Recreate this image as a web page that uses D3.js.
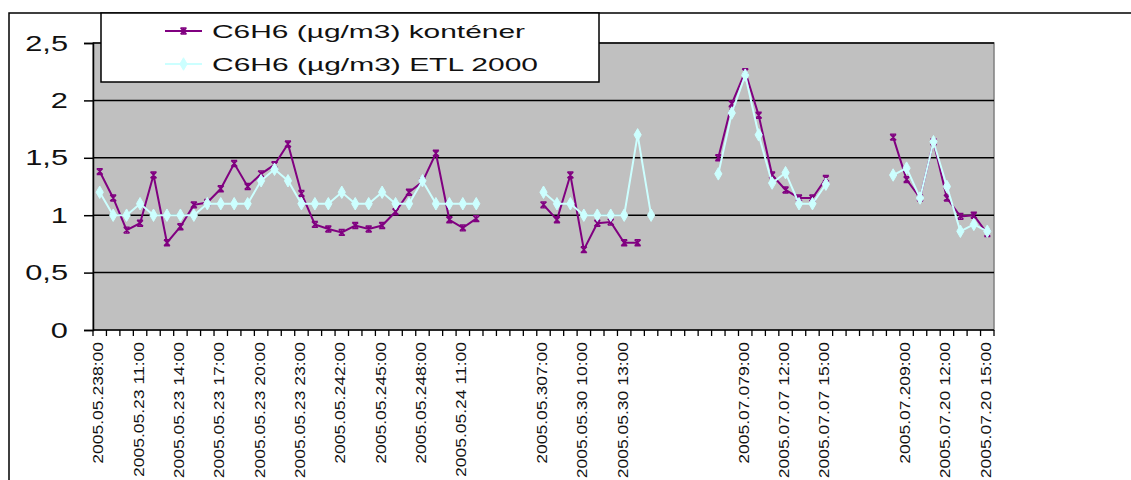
<!DOCTYPE html>
<html>
<head>
<meta charset="utf-8">
<script src="https://cdn.jsdelivr.net/npm/d3@7"></script>
<style>
  html, body { margin: 0; padding: 0; background: #fff; }
  svg { display: block; font-family: "Liberation Sans", Arial, sans-serif; }
</style>
</head>
<body>
<svg id="chart" width="1131" height="480"></svg>
<script>
// ---- data ----
const categories = [
  "2005.05.238:00","2005.05.239:00","2005.05.23 10:00","2005.05.23 11:00","2005.05.23 12:00",
  "2005.05.23 13:00","2005.05.23 14:00","2005.05.23 15:00","2005.05.23 16:00","2005.05.23 17:00",
  "2005.05.23 18:00","2005.05.23 19:00","2005.05.23 20:00","2005.05.23 21:00","2005.05.23 22:00",
  "2005.05.23 23:00","2005.05.240:00","2005.05.241:00","2005.05.242:00","2005.05.243:00",
  "2005.05.244:00","2005.05.245:00","2005.05.246:00","2005.05.247:00","2005.05.248:00",
  "2005.05.249:00","2005.05.24 10:00","2005.05.24 11:00","2005.05.24 12:00",
  "","","","",
  "2005.05.307:00","2005.05.308:00","2005.05.309:00","2005.05.30 10:00","2005.05.30 11:00",
  "2005.05.30 12:00","2005.05.30 13:00","2005.05.30 14:00","2005.05.30 15:00",
  "","","","",
  "2005.07.077:00","2005.07.078:00","2005.07.079:00","2005.07.07 10:00","2005.07.07 11:00",
  "2005.07.07 12:00","2005.07.07 13:00","2005.07.07 14:00","2005.07.07 15:00",
  "","","","",
  "2005.07.208:00","2005.07.209:00","2005.07.20 10:00","2005.07.20 11:00","2005.07.20 12:00",
  "2005.07.20 13:00","2005.07.20 14:00","2005.07.20 15:00"
];
const kontener = [
  1.38,1.15,0.87,0.93,1.35,0.76,0.90,1.09,1.11,1.23,1.45,1.25,1.36,1.44,1.62,
  1.19,0.92,0.88,0.85,0.91,0.88,0.91,1.03,1.20,1.29,1.54,0.96,0.89,0.97,
  null,null,null,null,
  1.09,0.96,1.35,0.70,0.93,0.94,0.76,0.76,null,
  null,null,null,null,
  1.50,1.97,2.25,1.87,1.35,1.22,1.15,1.15,1.32,
  null,null,null,null,
  1.68,1.31,1.15,1.64,1.15,0.99,1.00,0.84
];
const etl2000 = [
  1.2,1.0,1.0,1.1,1.0,1.0,1.0,1.0,1.1,1.1,1.1,1.1,1.3,1.4,1.3,
  1.1,1.1,1.1,1.2,1.1,1.1,1.2,1.1,1.1,1.3,1.1,1.1,1.1,1.1,
  null,null,null,null,
  1.2,1.1,1.1,1.0,1.0,1.0,1.0,1.7,1.0,
  null,null,null,null,
  1.36,1.89,2.22,1.70,1.28,1.37,1.10,1.10,1.27,
  null,null,null,null,
  1.35,1.41,1.15,1.64,1.25,0.86,0.92,0.86
];
const seriesNames = ["C6H6 (µg/m3) konténer", "C6H6 (µg/m3) ETL 2000"];
const yTicks = [0, 0.5, 1, 1.5, 2, 2.5];
const labelEvery = 3;

// ---- layout ----
const svg = d3.select("#chart");
const plot = { left: 93, right: 994, top: 43, bottom: 330 };
const colors = { kont: "#800080", etl: "#ccffff", plotBg: "#c0c0c0" };

const idx = d3.range(categories.length);
const x = d3.scaleBand().domain(idx).range([plot.left, plot.right]).padding(0);
const y = d3.scaleLinear().domain([0, 2.5]).range([plot.bottom, plot.top]);
const locale = d3.formatLocale({ decimal: ",", thousands: " ", grouping: [3], currency: ["", ""] });
const fmt = locale.format(".1~f");

// chart area frame
svg.append("rect").attr("x", 9).attr("y", 13).attr("width", 1200).attr("height", 600)
  .attr("fill", "#fff").attr("stroke", "#000").attr("stroke-width", 1.5);

// plot area
svg.append("rect").attr("x", plot.left).attr("y", plot.top)
  .attr("width", plot.right - plot.left).attr("height", plot.bottom - plot.top)
  .attr("fill", colors.plotBg).attr("stroke", "#808080").attr("stroke-width", 1.5);

// gridlines
svg.append("g").selectAll("line").data(yTicks.filter(d => d > 0)).join("line")
  .attr("x1", plot.left).attr("x2", plot.right)
  .attr("y1", d => y(d)).attr("y2", d => y(d))
  .attr("stroke", "#000").attr("stroke-width", 1.5);

// y axis
const yAxis = svg.append("g").attr("transform", `translate(${plot.left},0)`)
  .call(d3.axisLeft(y).tickValues(yTicks).tickSize(9).tickFormat(fmt));
yAxis.select(".domain").attr("stroke", "#000").attr("stroke-width", 1.5);
yAxis.selectAll(".tick line").attr("stroke", "#000").attr("stroke-width", 1.5);
yAxis.selectAll(".tick text").each(function () {
  const t = d3.select(this);
  t.attr("x", null).attr("dy", null)
   .attr("text-anchor", "end")
   .attr("font-size", 22).attr("fill", "#111")
   .attr("font-family", "'Liberation Sans', Arial, sans-serif")
   .attr("transform", `translate(-25,7) scale(1.4,1)`);
});

// x axis: tick marks at category boundaries
const bounds = idx.map(i => x(i)).concat([x(idx[idx.length - 1]) + x.bandwidth()]);
svg.append("g").selectAll("line").data(bounds).join("line")
  .attr("x1", d => d).attr("x2", d => d)
  .attr("y1", plot.bottom).attr("y2", plot.bottom + 6)
  .attr("stroke", "#000").attr("stroke-width", 1.3);
svg.append("line").attr("x1", plot.left).attr("x2", plot.right)
  .attr("y1", plot.bottom).attr("y2", plot.bottom)
  .attr("stroke", "#000").attr("stroke-width", 1.5);

// x labels
const labelIdx = idx.filter(i => i % labelEvery === 0 && categories[i] !== "");
const xl = svg.append("g").selectAll("text").data(labelIdx).join("text")
  .attr("transform", i => `translate(${x(i) + x.bandwidth() / 2 - 2},${plot.bottom + 12}) rotate(-90)`)
  .attr("text-anchor", "end").attr("dy", "0.35em")
  .attr("font-size", 15.5).attr("fill", "#111")
  .text(i => categories[i]);
xl.each(function () {
  const L = this.getComputedTextLength();
  d3.select(this).attr("textLength", L * 1.13).attr("lengthAdjust", "spacingAndGlyphs");
});

// series
const line = d3.line()
  .defined(d => d.v !== null)
  .x(d => x(d.i) + x.bandwidth() / 2)
  .y(d => y(d.v));

const kData = kontener.map((v, i) => ({ i, v }));
const eData = etl2000.map((v, i) => ({ i, v }));

function starPath(s) {
  return `M${-s},${-s}L${s},${s}M${-s},${s}L${s},${-s}M0,${-s - 0.5}L0,${s + 0.5}M${-s},${-s}L${s},${-s}M${-s},${s}L${s},${s}`;
}

svg.append("path").datum(kData).attr("d", line)
  .attr("fill", "none").attr("stroke", colors.kont).attr("stroke-width", 2);
svg.append("g").selectAll("path").data(kData.filter(d => d.v !== null)).join("path")
  .attr("transform", d => `translate(${x(d.i) + x.bandwidth() / 2},${y(d.v)})`)
  .attr("d", starPath(3))
  .attr("fill", "none").attr("stroke", colors.kont).attr("stroke-width", 1.4);

svg.append("path").datum(eData).attr("d", line)
  .attr("fill", "none").attr("stroke", colors.etl).attr("stroke-width", 2);
svg.append("g").selectAll("path").data(eData.filter(d => d.v !== null)).join("path")
  .attr("transform", d => `translate(${x(d.i) + x.bandwidth() / 2},${y(d.v)})`)
  .attr("d", d3.symbol(d3.symbolDiamond, 45))
  .attr("fill", colors.etl).attr("stroke", colors.etl).attr("stroke-width", 1);

// legend
const lg = svg.append("g");
lg.append("rect").attr("x", 101).attr("y", 13).attr("width", 498).attr("height", 69)
  .attr("fill", "#fff").attr("stroke", "#000").attr("stroke-width", 1.5);
const legendItems = [
  { name: seriesNames[0], color: colors.kont, y: 31, marker: "star", len: 313 },
  { name: seriesNames[1], color: colors.etl, y: 64, marker: "diamond", len: 326 }
];
legendItems.forEach(it => {
  lg.append("line").attr("x1", 165).attr("x2", 202).attr("y1", it.y).attr("y2", it.y)
    .attr("stroke", it.color).attr("stroke-width", 2);
  if (it.marker === "star") {
    lg.append("path").attr("transform", `translate(183.5,${it.y})`).attr("d", starPath(3))
      .attr("fill", "none").attr("stroke", it.color).attr("stroke-width", 1.4);
  } else {
    lg.append("path").attr("transform", `translate(183.5,${it.y})`)
      .attr("d", d3.symbol(d3.symbolDiamond, 45))
      .attr("fill", it.color).attr("stroke", it.color);
  }
  lg.append("text").attr("x", 212).attr("y", it.y + 7)
    .attr("font-size", 19).attr("fill", "#111")
    .attr("textLength", it.len).attr("lengthAdjust", "spacingAndGlyphs")
    .text(it.name);
});
</script>
</body>
</html>
